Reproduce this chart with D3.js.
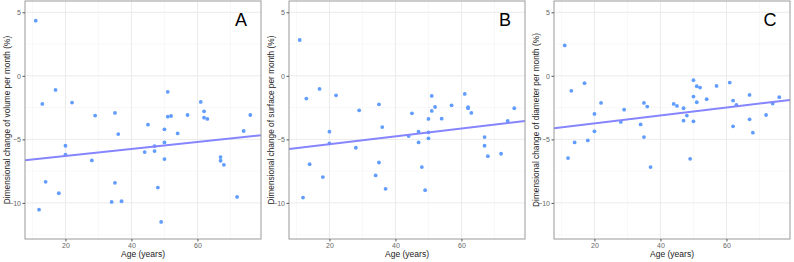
<!DOCTYPE html>
<html>
<head>
<meta charset="utf-8">
<script src="https://cdn.jsdelivr.net/npm/d3@7"></script>
<style>
  body { margin: 0; background: #fff; }
  text { font-family: "Liberation Sans", Arial, sans-serif; }
</style>
</head>
<body>
<svg id="chart" width="794" height="262"></svg>
<script>
(function(){

  // patient ages (same for all three panels)
  var ages = [11,12,13,14,17,18,20,20,22,28,29,34,35,35,36,37,44,45,47,47,
              48,49,50,50,50,51,51,52,54,57,61,62,62,63,67,67,68,72,74,76]

  var volumeChange = [4.34,-10.53,-2.21,-8.34,-1.11,-9.24,-5.5,-6.21,-2.1,-6.66,
                      -3.13,-9.92,-2.92,-8.42,-4.58,-9.87,-6.0,-3.84,-5.53,-5.92,
                      -8.79,-11.5,-4.21,-5.24,-6.55,-1.26,-3.21,-3.16,-4.53,-3.08,
                      -2.05,-2.79,-3.29,-3.39,-6.39,-6.68,-7.0,-9.53,-4.34,-3.08]

  var surfaceChange = [2.82,-9.58,-1.79,-6.95,-1.03,-7.97,-4.39,-5.32,-1.53,-5.66,
                       -2.71,-7.84,-2.24,-6.82,-4.03,-8.89,-4.74,-2.95,-4.39,-5.24,
                       -7.18,-9.0,-3.39,-4.45,-4.92,-1.58,-2.76,-2.45,-3.37,-2.32,
                       -1.42,-2.47,-2.55,-2.92,-4.82,-5.5,-6.32,-6.13,-3.55,-2.55]

  var diameterChange = [2.39,-6.47,-1.18,-5.24,-0.58,-5.08,-3.0,-4.37,-2.13,-3.63,
                        -2.66,-3.82,-2.13,-4.82,-2.42,-7.18,-2.21,-2.37,-2.55,-3.53,
                        -3.13,-6.53,-0.34,-1.63,-3.58,-0.82,-2.08,-0.92,-1.84,-0.79,
                        -0.53,-1.95,-3.97,-2.29,-1.5,-3.42,-4.47,-3.08,-2.18,-1.68]

  // linear fit values at the left and right edge of the x range
  var fitAges = [7.75, 79.25]
  var volumeFit = [-6.65, -4.68]
  var surfaceFit = [-5.76, -3.55]
  var diameterFit = [-4.13, -1.9]

  var panelLetters = ['A', 'B', 'C']
  var yTitles = ['Dimensional change of volume per month (%)',
                 'Dimensional change of surface per month (%)',
                 'Dimensional change of diameter per month (%)']
  var xTicks = [20, 40, 60]
  var xMinor = [10, 30, 50, 70]
  var yTicks = [5, 0, -5, -10]
  var yMinor = [2.5, -2.5, -7.5, -12.5]

  var series = [volumeChange, surfaceChange, diameterChange]
  var fits = [volumeFit, surfaceFit, diameterFit]

  var svg = d3.select('#chart')
  var panelW = 236, panelTop = 1, panelBottom = 239
  var panelLefts = [25, 289, 554]

  var xScale = d3.scaleLinear().domain([7.75, 79.25]).range([0, panelW])
  var yScale = d3.scaleLinear().domain([-12.84, 5.89]).range([panelBottom, panelTop])

  series.forEach(function(vals, pi) {
    var g = svg.append('g')
      .attr('transform', 'translate(' + panelLefts[pi] + ',0)')

    var clipId = 'clip' + pi
    g.append('clipPath').attr('id', clipId)
      .append('rect')
      .attr('x', 0).attr('y', panelTop)
      .attr('width', panelW).attr('height', panelBottom - panelTop)

    // minor grid
    g.selectAll('.xminor').data(xMinor).enter().append('line')
      .attr('x1', d => xScale(d)).attr('x2', d => xScale(d))
      .attr('y1', panelTop).attr('y2', panelBottom)
      .attr('stroke', '#f4f4f4').attr('stroke-width', 0.6)
    g.selectAll('.yminor').data(yMinor).enter().append('line')
      .attr('x1', 0).attr('x2', panelW)
      .attr('y1', d => yScale(d)).attr('y2', d => yScale(d))
      .attr('stroke', '#f4f4f4').attr('stroke-width', 0.6)

    // major grid
    g.selectAll('.xmajor').data(xTicks).enter().append('line')
      .attr('x1', d => xScale(d)).attr('x2', d => xScale(d))
      .attr('y1', panelTop).attr('y2', panelBottom)
      .attr('stroke', '#ebebeb').attr('stroke-width', 1)
    g.selectAll('.ymajor').data(yTicks).enter().append('line')
      .attr('x1', 0).attr('x2', panelW)
      .attr('y1', d => yScale(d)).attr('y2', d => yScale(d))
      .attr('stroke', '#ebebeb').attr('stroke-width', 1)

    // points
    g.append('g').attr('clip-path', 'url(#' + clipId + ')')
      .selectAll('circle').data(vals).enter().append('circle')
      .attr('cx', (d, i) => xScale(ages[i]))
      .attr('cy', d => yScale(d))
      .attr('r', 1.9)
      .attr('fill', '#619CFF')

    // fit line
    var line = d3.line().x(d => xScale(d[0])).y(d => yScale(d[1]))
    g.append('path')
      .attr('clip-path', 'url(#' + clipId + ')')
      .attr('d', line(fitAges.map((a, i) => [a, fits[pi][i]])))
      .attr('fill', 'none')
      .attr('stroke', '#8585ff')
      .attr('stroke-width', 2)

    // border
    g.append('rect')
      .attr('x', 0).attr('y', panelTop)
      .attr('width', panelW).attr('height', panelBottom - panelTop)
      .attr('fill', 'none').attr('stroke', '#9a9a9a').attr('stroke-width', 1)

    // axes
    var xAxis = g.append('g')
      .attr('transform', 'translate(0,' + panelBottom + ')')
      .call(d3.axisBottom(xScale).tickValues(xTicks).tickSize(2.5).tickPadding(1.5))
    var yAxis = g.append('g')
      .call(d3.axisLeft(yScale).tickValues(yTicks).tickSize(2.5).tickPadding(1.5))
    ;[xAxis, yAxis].forEach(function(ax) {
      ax.select('.domain').remove()
      ax.selectAll('line').attr('stroke', '#555')
      ax.selectAll('text').attr('fill', '#666').style('font-size', '7px')
        .style('font-family', '"Liberation Sans", Arial, sans-serif')
    })

    // titles
    g.append('text')
      .attr('x', panelW / 2).attr('y', 257)
      .attr('text-anchor', 'middle')
      .style('font-size', '8.5px').attr('fill', '#222')
      .text('Age (years)')
    g.append('text')
      .attr('transform', 'translate(-15,' + ((panelTop + panelBottom) / 2) + ') rotate(-90)')
      .attr('text-anchor', 'middle')
      .style('font-size', '8.3px').attr('fill', '#222')
      .text(yTitles[pi])

    // panel letter
    g.append('text')
      .attr('x', panelW - 20).attr('y', 25.5)
      .attr('text-anchor', 'middle')
      .style('font-size', '18px').attr('fill', '#000')
      .text(panelLetters[pi])
  })
})()
</script>
</body>
</html>
